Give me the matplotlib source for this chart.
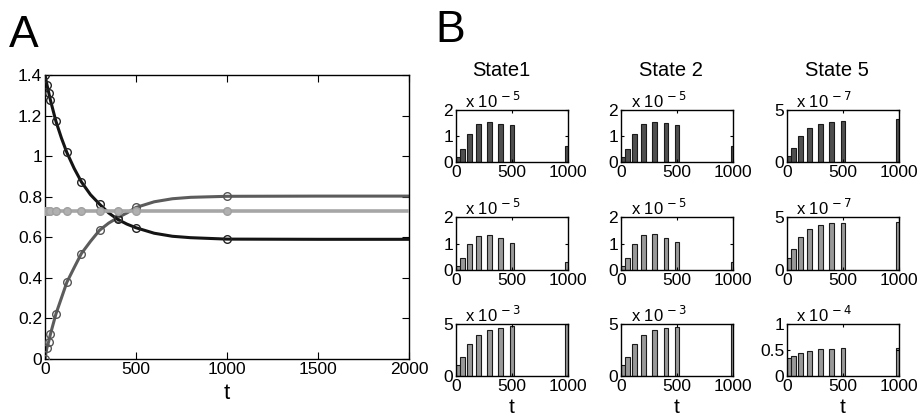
import matplotlib
matplotlib.use('Agg')
import matplotlib.pyplot as plt

plt.rcParams['font.family'] = ['Liberation Sans', 'DejaVu Sans']

# ---------------- Panel A data ----------------
t_line = [0, 10, 20, 30, 60, 90, 120, 160, 200, 250, 300, 350, 400, 450, 500,
          600, 700, 800, 1000, 1500, 2000]
black_line = [1.40, 1.355, 1.315, 1.275, 1.172, 1.09, 1.018, 0.94, 0.873, 0.81,
              0.763, 0.72, 0.688, 0.665, 0.647, 0.62, 0.605, 0.598, 0.591, 0.59, 0.59]
gray_line = [0.0, 0.053, 0.085, 0.123, 0.222, 0.30, 0.378, 0.45, 0.52, 0.58,
             0.635, 0.67, 0.697, 0.72, 0.747, 0.775, 0.79, 0.797, 0.802, 0.803, 0.803]
light_line = [0.73, 0.73]
light_t = [0, 2000]

t_samples = [0, 10, 20, 30, 60, 120, 200, 300, 400, 500, 1000]
black_samples = [1.40, 1.35, 1.313, 1.275, 1.172, 1.018, 0.873, 0.763, 0.688, 0.647, 0.591]
gray_samples = [0.0, 0.053, 0.085, 0.123, 0.222, 0.378, 0.52, 0.635, 0.697, 0.747, 0.802]
light_samples = [0.73, 0.73, 0.73, 0.73, 0.73, 0.73, 0.73, 0.73, 0.73, 0.73, 0.73]

a_xticks = [0, 500, 1000, 1500, 2000]
a_yticks = [0, 0.2, 0.4, 0.6, 0.8, 1.0, 1.2, 1.4]
a_yticklabels = ['0', '0.2', '0.4', '0.6', '0.8', '1', '1.2', '1.4']

# ---------------- Panel B data (mantissas) ----------------
bar_t = [20, 60, 120, 200, 300, 400, 500, 1000]
titles = ['State1', 'State 2', 'State 5']

s1_r1 = [0.19, 0.49, 1.06, 1.45, 1.54, 1.48, 1.41, 0.61]
s2_r1 = [0.19, 0.50, 1.07, 1.46, 1.55, 1.51, 1.43, 0.63]
s5_r1 = [0.58, 1.35, 2.48, 3.23, 3.65, 3.81, 3.94, 4.10]
s1_r2 = [0.16, 0.44, 0.97, 1.30, 1.33, 1.19, 1.01, 0.32]
s2_r2 = [0.16, 0.46, 0.99, 1.33, 1.35, 1.22, 1.05, 0.32]
s5_r2 = [1.17, 1.99, 3.13, 3.86, 4.27, 4.40, 4.46, 4.53]
s1_r3 = [1.03, 1.87, 3.06, 3.94, 4.42, 4.61, 4.77, 5.00]
s2_r3 = [1.10, 1.87, 3.06, 3.90, 4.39, 4.58, 4.74, 5.00]
s5_r3 = [0.34, 0.39, 0.45, 0.49, 0.52, 0.52, 0.53, 0.54]

grid_values = [[s1_r1, s2_r1, s5_r1],
               [s1_r2, s2_r2, s5_r2],
               [s1_r3, s2_r3, s5_r3]]
exponents = [[-5, -5, -7], [-5, -5, -7], [-3, -3, -4]]
ymax = [[2, 2, 5], [2, 2, 5], [5, 5, 1]]
yticks_for = {2: ([0, 1, 2], ['0', '1', '2']),
              5: ([0, 5], ['0', '5']),
              1: ([0, 0.5, 1], ['0', '0.5', '1'])}
b_xticks = [0, 500, 1000]

row_fill = ['#4f4f4f', '#999999', '#999999']

# ---------------- Figure ----------------
W, H = 921, 418
fig = plt.figure(figsize=(W / 100, H / 100), dpi=100)

def frac(x0, y_top, x1, y_bot):
    return [x0 / W, 1 - y_bot / H, (x1 - x0) / W, (y_bot - y_top) / H]

# Panel A
axA = fig.add_axes(frac(45, 75, 409, 359))
axA.plot(t_line, gray_line, color='#5c5c5c', lw=2.2, zorder=2)
axA.plot(t_line, black_line, color='#141414', lw=2.2, zorder=3)
axA.plot(light_t, light_line, color='#a6a6a6', lw=2.6, zorder=4)
axA.plot(t_samples, gray_samples, ls='none', marker='o', ms=5.5, mfc='none',
         mec='#555555', mew=1.0, zorder=5)
axA.plot(t_samples, black_samples, ls='none', marker='o', ms=5.5, mfc='none',
         mec='#222222', mew=1.0, zorder=5)
axA.plot(t_samples, light_samples, ls='none', marker='o', ms=5.5, mfc='#b0b0b0',
         mec='#a0a0a0', mew=1.0, zorder=6)
axA.set_xlim(0, 2000)
axA.set_ylim(0, 1.4)
axA.set_xticks(a_xticks)
axA.set_yticks(a_yticks)
axA.set_yticklabels(a_yticklabels)
axA.tick_params(direction='in', length=5, width=0.8, top=True, right=True,
                labelsize=12.5, pad=2)
axA.set_xlabel('t', fontsize=16)
axA.xaxis.set_label_coords(0.5, -0.085)
for s in axA.spines.values():
    s.set_linewidth(1.0)

fig.text(9 / W, 1 - 47 / H, 'A', fontsize=32, ha='left', va='baseline')
fig.text(435 / W, 1 - 42 / H, 'B', fontsize=32, ha='left', va='baseline')

col_x = [(456, 567.5), (621, 733), (787, 898.5)]
row_y = [(110, 162), (217, 270), (324, 376)]
title_x = [501, 671, 837]

for r in range(3):
    for c in range(3):
        x0, x1 = col_x[c]
        yt, yb = row_y[r]
        ax = fig.add_axes(frac(x0, yt, x1, yb))
        ax.bar(bar_t, grid_values[r][c], width=40, color=row_fill[r],
               edgecolor='#1a1a1a', linewidth=0.8)
        ax.set_xlim(0, 1000)
        ax.set_ylim(0, ymax[r][c])
        ax.set_xticks(b_xticks)
        ticks, labels = yticks_for[ymax[r][c]]
        ax.set_yticks(ticks)
        ax.set_yticklabels(labels)
        ax.tick_params(direction='in', length=2.5, width=0.8, top=True, right=True,
                       labelsize=12.5, pad=2)
        for s in ax.spines.values():
            s.set_linewidth(1.0)
        ax.text(0.085, 1.03, r'x 10$^{\,%d}$' % exponents[r][c], transform=ax.transAxes,
                fontsize=12, ha='left', va='baseline')
        if r == 2:
            ax.set_xlabel('t', fontsize=15)
            ax.xaxis.set_label_coords(0.5, -0.43)
        if r == 0:
            fig.text(title_x[c] / W, 1 - 70 / H, titles[c], fontsize=14.5,
                     ha='center', va='center')

fig.savefig('out.png', dpi=100)
